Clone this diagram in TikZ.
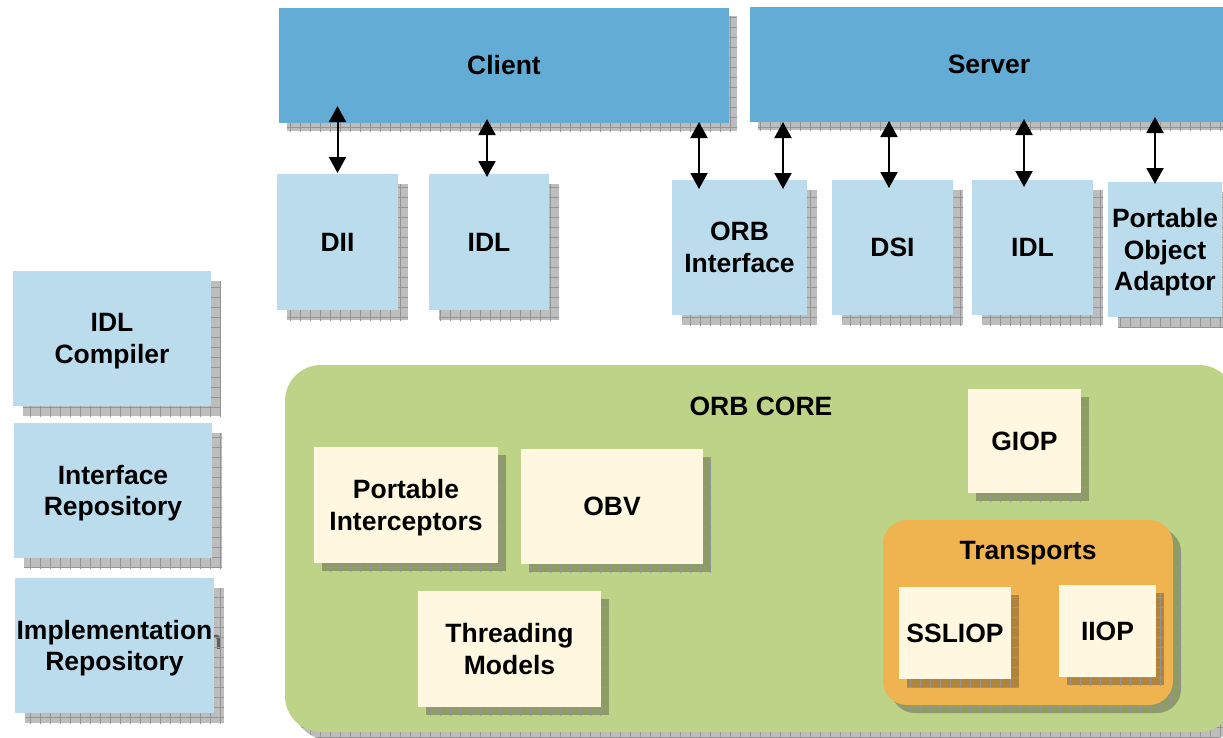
\documentclass[tikz,border=0pt]{standalone}
\usepackage{fontspec}
\setmainfont{Liberation Sans}
\usetikzlibrary{shadows,patterns.meta,arrows.meta,calc}

\definecolor{barblue}{RGB}{99,172,214}
\definecolor{boxblue}{RGB}{187,220,236}
\definecolor{coregreen}{RGB}{189,211,135}
\definecolor{cream}{RGB}{255,247,223}
\definecolor{transorange}{RGB}{239,179,80}

\tikzset{
  gridshadow/.style={
    general shadow={shadow xshift=#1, shadow yshift=-#1, fill=black, fill opacity=0.26},
    general shadow={shadow xshift=#1, shadow yshift=-#1,
      pattern={Hatch[angle=0,distance=10pt,line width=0.5pt]},
      pattern color=black!42}},
  block/.style={inner sep=0pt, outer sep=0pt, anchor=north west, align=center,
    font=\bfseries\fontsize{26.5}{31.7}\selectfont},
  multiline/.style={text depth=-2pt},
  bar/.style={block, fill=barblue, gridshadow=8pt},
  module/.style={block, fill=boxblue, gridshadow=10pt},
  service/.style={block, fill=cream, gridshadow=8pt},
  title/.style={font=\bfseries\fontsize{26.5}{31.7}\selectfont, inner sep=0pt},
  biarrow/.style={{Triangle[width=17pt,length=16pt]}-{Triangle[width=17pt,length=16pt]}, line width=2pt},
}

\begin{document}
\begin{tikzpicture}[x=1pt,y=-1pt]
\useasboundingbox (0,0) rectangle (1223,737);
\clip (0,0) rectangle (1223,737);

% client and server bars
\node[bar, minimum width=450pt, minimum height=115pt] (client) at (279,8) {Client};
\node[bar, minimum width=478pt, minimum height=115pt] (server) at (750,7) {Server};

% client-side interfaces
\node[module, minimum width=121pt, minimum height=136pt] (dii) at (277,174) {DII};
\node[module, minimum width=120pt, minimum height=136pt] (cidl) at (429,174) {IDL};

% server-side interfaces
\node[module, multiline, minimum width=135pt, minimum height=135pt] (orbi) at (672,180) {ORB\\Interface};
\node[module, minimum width=121pt, minimum height=135pt] (dsi) at (832,180) {DSI};
\node[module, minimum width=121pt, minimum height=135pt] (sidl) at (972,180) {IDL};
\node[module, multiline, minimum width=114pt, minimum height=135pt] (poa) at (1108,182) {Portable\\Object\\Adaptor};

% tools and repositories
\node[module, multiline, minimum width=198pt, minimum height=135pt] (idlc) at (13,271) {IDL\\Compiler};
\node[module, multiline, minimum width=198pt, minimum height=135pt] (ifr) at (14,423) {Interface\\Repository};
\node[block, multiline, text=black!50, minimum width=199pt, minimum height=135pt] (implghost) at (25,588) {Implementation\\Repository};
\node[module, multiline, minimum width=199pt, minimum height=135pt] (impr) at (15,578) {Implementation\\Repository};

% ORB core
\node[block, fill=coregreen, rounded corners=36pt, gridshadow=8pt,
      minimum width=950pt, minimum height=367pt] (core) at (285,365) {};
\node[title] (coretitle) at (761,406) {ORB CORE};

\node[service, multiline, minimum width=184pt, minimum height=116pt] (pi) at (314,447) {Portable\\Interceptors};
\node[service, minimum width=182pt, minimum height=115pt] (obv) at (521,449) {OBV};
\node[service, multiline, minimum width=183pt, minimum height=116pt] (tm) at (418,591) {Threading\\Models};
\node[service, minimum width=113pt, minimum height=104pt] (giop) at (968,389) {GIOP};

% transports
\node[block, fill=transorange, rounded corners=24pt, gridshadow=8pt,
      minimum width=290pt, minimum height=185pt] (trans) at (883,520) {};
\node[title] (transtitle) at (1028,553) {Transports};
\node[service, minimum width=112pt, minimum height=92pt] (ssliop) at (899,587) {SSLIOP};
\node[service, minimum width=97pt, minimum height=92pt] (iiop) at (1059,585) {IIOP};

% invocation paths
\draw[biarrow] ([yshift=17pt]dii.north |- client.south) -- ([yshift=1pt]dii.north);
\draw[biarrow] ([xshift=-2pt,yshift=4pt]cidl.north |- client.south) -- ([xshift=-2pt,yshift=-3pt]cidl.north);
\draw[biarrow] ([xshift=-40.5pt,yshift=1pt]orbi.north |- client.south) -- ([xshift=-40.5pt,yshift=-9pt]orbi.north);
\draw[biarrow] ([xshift=43.5pt]orbi.north |- server.south) -- ([xshift=43.5pt,yshift=-9pt]orbi.north);
\draw[biarrow] ([xshift=-3.5pt,yshift=1pt]dsi.north |- server.south) -- ([xshift=-3.5pt,yshift=-8pt]dsi.north);
\draw[biarrow] ([xshift=-8.5pt,yshift=3pt]sidl.north |- server.south) -- ([xshift=-8.5pt,yshift=-7pt]sidl.north);
\draw[biarrow] ([xshift=-10pt,yshift=5pt]poa.north |- server.south) -- ([xshift=-10pt,yshift=-2pt]poa.north);
\end{tikzpicture}
\end{document}
